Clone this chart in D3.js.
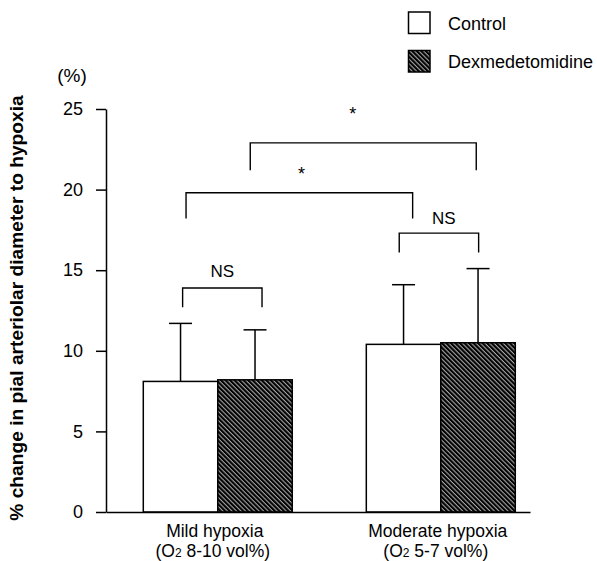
<!DOCTYPE html>
<html lang="en">
<head>
<meta charset="UTF-8">
<title>Pial arteriolar diameter change to hypoxia</title>
<script src="https://d3js.org/d3.v7.min.js"></script>
<style>
  body { margin: 0; background: #fff; }
  svg { display: block; font-family: "Liberation Sans", Arial, Helvetica, sans-serif; }
  .axis path, .axis line { stroke: #000; stroke-width: 1.5; }
  .axis text { font-size: 18px; fill: #000; }
</style>
</head>
<body>
<svg id="chart" width="597" height="561"></svg>
<script>
// groups and series
const groups = ["Mild hypoxia", "Moderate hypoxia"];
const groupSub = [["(O", "2", " 8-10 vol%)"], ["(O", "2", " 5-7 vol%)"]];
const series = ["Control", "Dexmedetomidine"];

// mean and SD per group, in series order
const controlMean = [8.1, 10.4];
const controlSD = [3.6, 3.7];
const dexMean = [8.2, 10.5];
const dexSD = [3.1, 4.6];

const yTicks = [0, 5, 10, 15, 20, 25];

// significance brackets: ends given as [group index, fraction across group band]
const bracketLabels = ["NS", "NS", "*", "*"];
const bracketFrom = [[0, 0.264], [1, 0.221], [0, 0.287], [0, 0.718]];
const bracketTo = [[0, 0.797], [1, 0.754], [1, 0.311], [1, 0.738]];
const bracketTop = [13.9, 17.3, 19.8, 22.9];
const bracketLeg = [12.7, 16.1, 18.2, 21.2];
const labelAt = [0.5, 0.56, 0.51, 0.454];
const labelY = [14.6, 17.85, 20.6, 24.3];

const svg = d3.select("#chart");

const y = d3.scaleLinear().domain([0, 25]).range([512, 109]);
const x = d3.scaleBand().domain(groups).range([106, 530])
    .paddingInner(0.332).paddingOuter(0.1166).align(0.717);
const xs = d3.scaleBand().domain(series).range([0, x.bandwidth()]);

// hatch pattern for dexmedetomidine bars
const defs = svg.append("defs");
const pat = defs.append("pattern")
    .attr("id", "hatch")
    .attr("patternUnits", "userSpaceOnUse")
    .attr("width", 3.2).attr("height", 3.2)
    .attr("patternTransform", "rotate(-45)");
pat.append("rect").attr("width", 3.2).attr("height", 3.2).attr("fill", "#000");
pat.append("line").attr("x1", 1).attr("x2", 1).attr("y1", 0).attr("y2", 3.2)
    .attr("stroke", "#ccc").attr("stroke-width", 0.9);

const fills = ["#fff", "url(#hatch)"];

const bars = [];
groups.forEach((g, i) => {
  bars.push({ g, s: series[0], mean: controlMean[i], sd: controlSD[i], k: 0 });
  bars.push({ g, s: series[1], mean: dexMean[i], sd: dexSD[i], k: 1 });
});

// error bars (drawn first, bars cover the base)
const cap = 11.5;
const err = svg.append("g").attr("stroke", "#000").attr("stroke-width", 1.5);
bars.forEach(d => {
  const cx = x(d.g) + xs(d.s) + xs.bandwidth() / 2;
  err.append("line").attr("x1", cx).attr("x2", cx)
      .attr("y1", y(d.mean)).attr("y2", y(d.mean + d.sd));
  err.append("line").attr("x1", cx - cap).attr("x2", cx + cap)
      .attr("y1", y(d.mean + d.sd)).attr("y2", y(d.mean + d.sd));
});

svg.append("g").selectAll("rect")
  .data(bars)
  .enter().append("rect")
    .attr("x", d => x(d.g) + xs(d.s))
    .attr("y", d => y(d.mean))
    .attr("width", xs.bandwidth())
    .attr("height", d => y(0) - y(d.mean))
    .attr("fill", d => fills[d.k])
    .attr("stroke", "#000")
    .attr("stroke-width", 1.5);

// axes
svg.append("g").attr("class", "axis")
    .attr("transform", "translate(106,0)")
    .call(d3.axisLeft(y).tickValues(yTicks).tickSize(10).tickSizeOuter(0).tickPadding(13));

svg.append("g").attr("class", "axis")
    .attr("transform", `translate(0,${y(0)})`)
    .call(d3.axisBottom(x).tickSize(0).tickSizeOuter(0).tickFormat(""));

// group labels
groups.forEach((g, i) => {
  const cx = x(g) + x.bandwidth() / 2;
  svg.append("text").attr("x", cx - 3).attr("y", 537)
      .attr("text-anchor", "middle").attr("font-size", 17.5).text(g);
  const t = svg.append("text").attr("x", cx - 5).attr("y", 557)
      .attr("text-anchor", "middle").attr("font-size", 17.5);
  t.append("tspan").text(groupSub[i][0]);
  t.append("tspan").attr("font-size", 12).text(groupSub[i][1]);
  t.append("tspan").text(groupSub[i][2]);
});

// brackets
const bx = p => x(groups[p[0]]) + p[1] * x.bandwidth();
const br = svg.append("g");
bracketLabels.forEach((lab, i) => {
  const x0 = bx(bracketFrom[i]), x1 = bx(bracketTo[i]);
  br.append("path")
      .attr("d", `M${x0},${y(bracketLeg[i])}V${y(bracketTop[i])}H${x1}V${y(bracketLeg[i])}`)
      .attr("fill", "none").attr("stroke", "#000").attr("stroke-width", 1.4);
  br.append("text")
      .attr("x", x0 + labelAt[i] * (x1 - x0))
      .attr("y", y(labelY[i]))
      .attr("text-anchor", "middle")
      .attr("font-size", lab === "*" ? 18 : 17)
      .text(lab);
});

// y axis title and unit
svg.append("text")
    .attr("transform", "translate(23,308) rotate(-90)")
    .attr("text-anchor", "middle")
    .attr("font-size", 19.2)
    .attr("font-weight", "bold")
    .text("% change in pial arteriolar diameter to hypoxia");

svg.append("text").attr("x", 72).attr("y", 82)
    .attr("text-anchor", "middle").attr("font-size", 19).text("(%)");

// legend
const legY = [12, 50.5];
series.forEach((s, i) => {
  svg.append("rect").attr("x", 408.5).attr("y", legY[i])
      .attr("width", 21.5).attr("height", 21.5)
      .attr("fill", fills[i]).attr("stroke", "#000").attr("stroke-width", 1.5);
  svg.append("text").attr("x", 448).attr("y", legY[i] + 17.5)
      .attr("font-size", 18).text(s);
});
</script>
</body>
</html>
